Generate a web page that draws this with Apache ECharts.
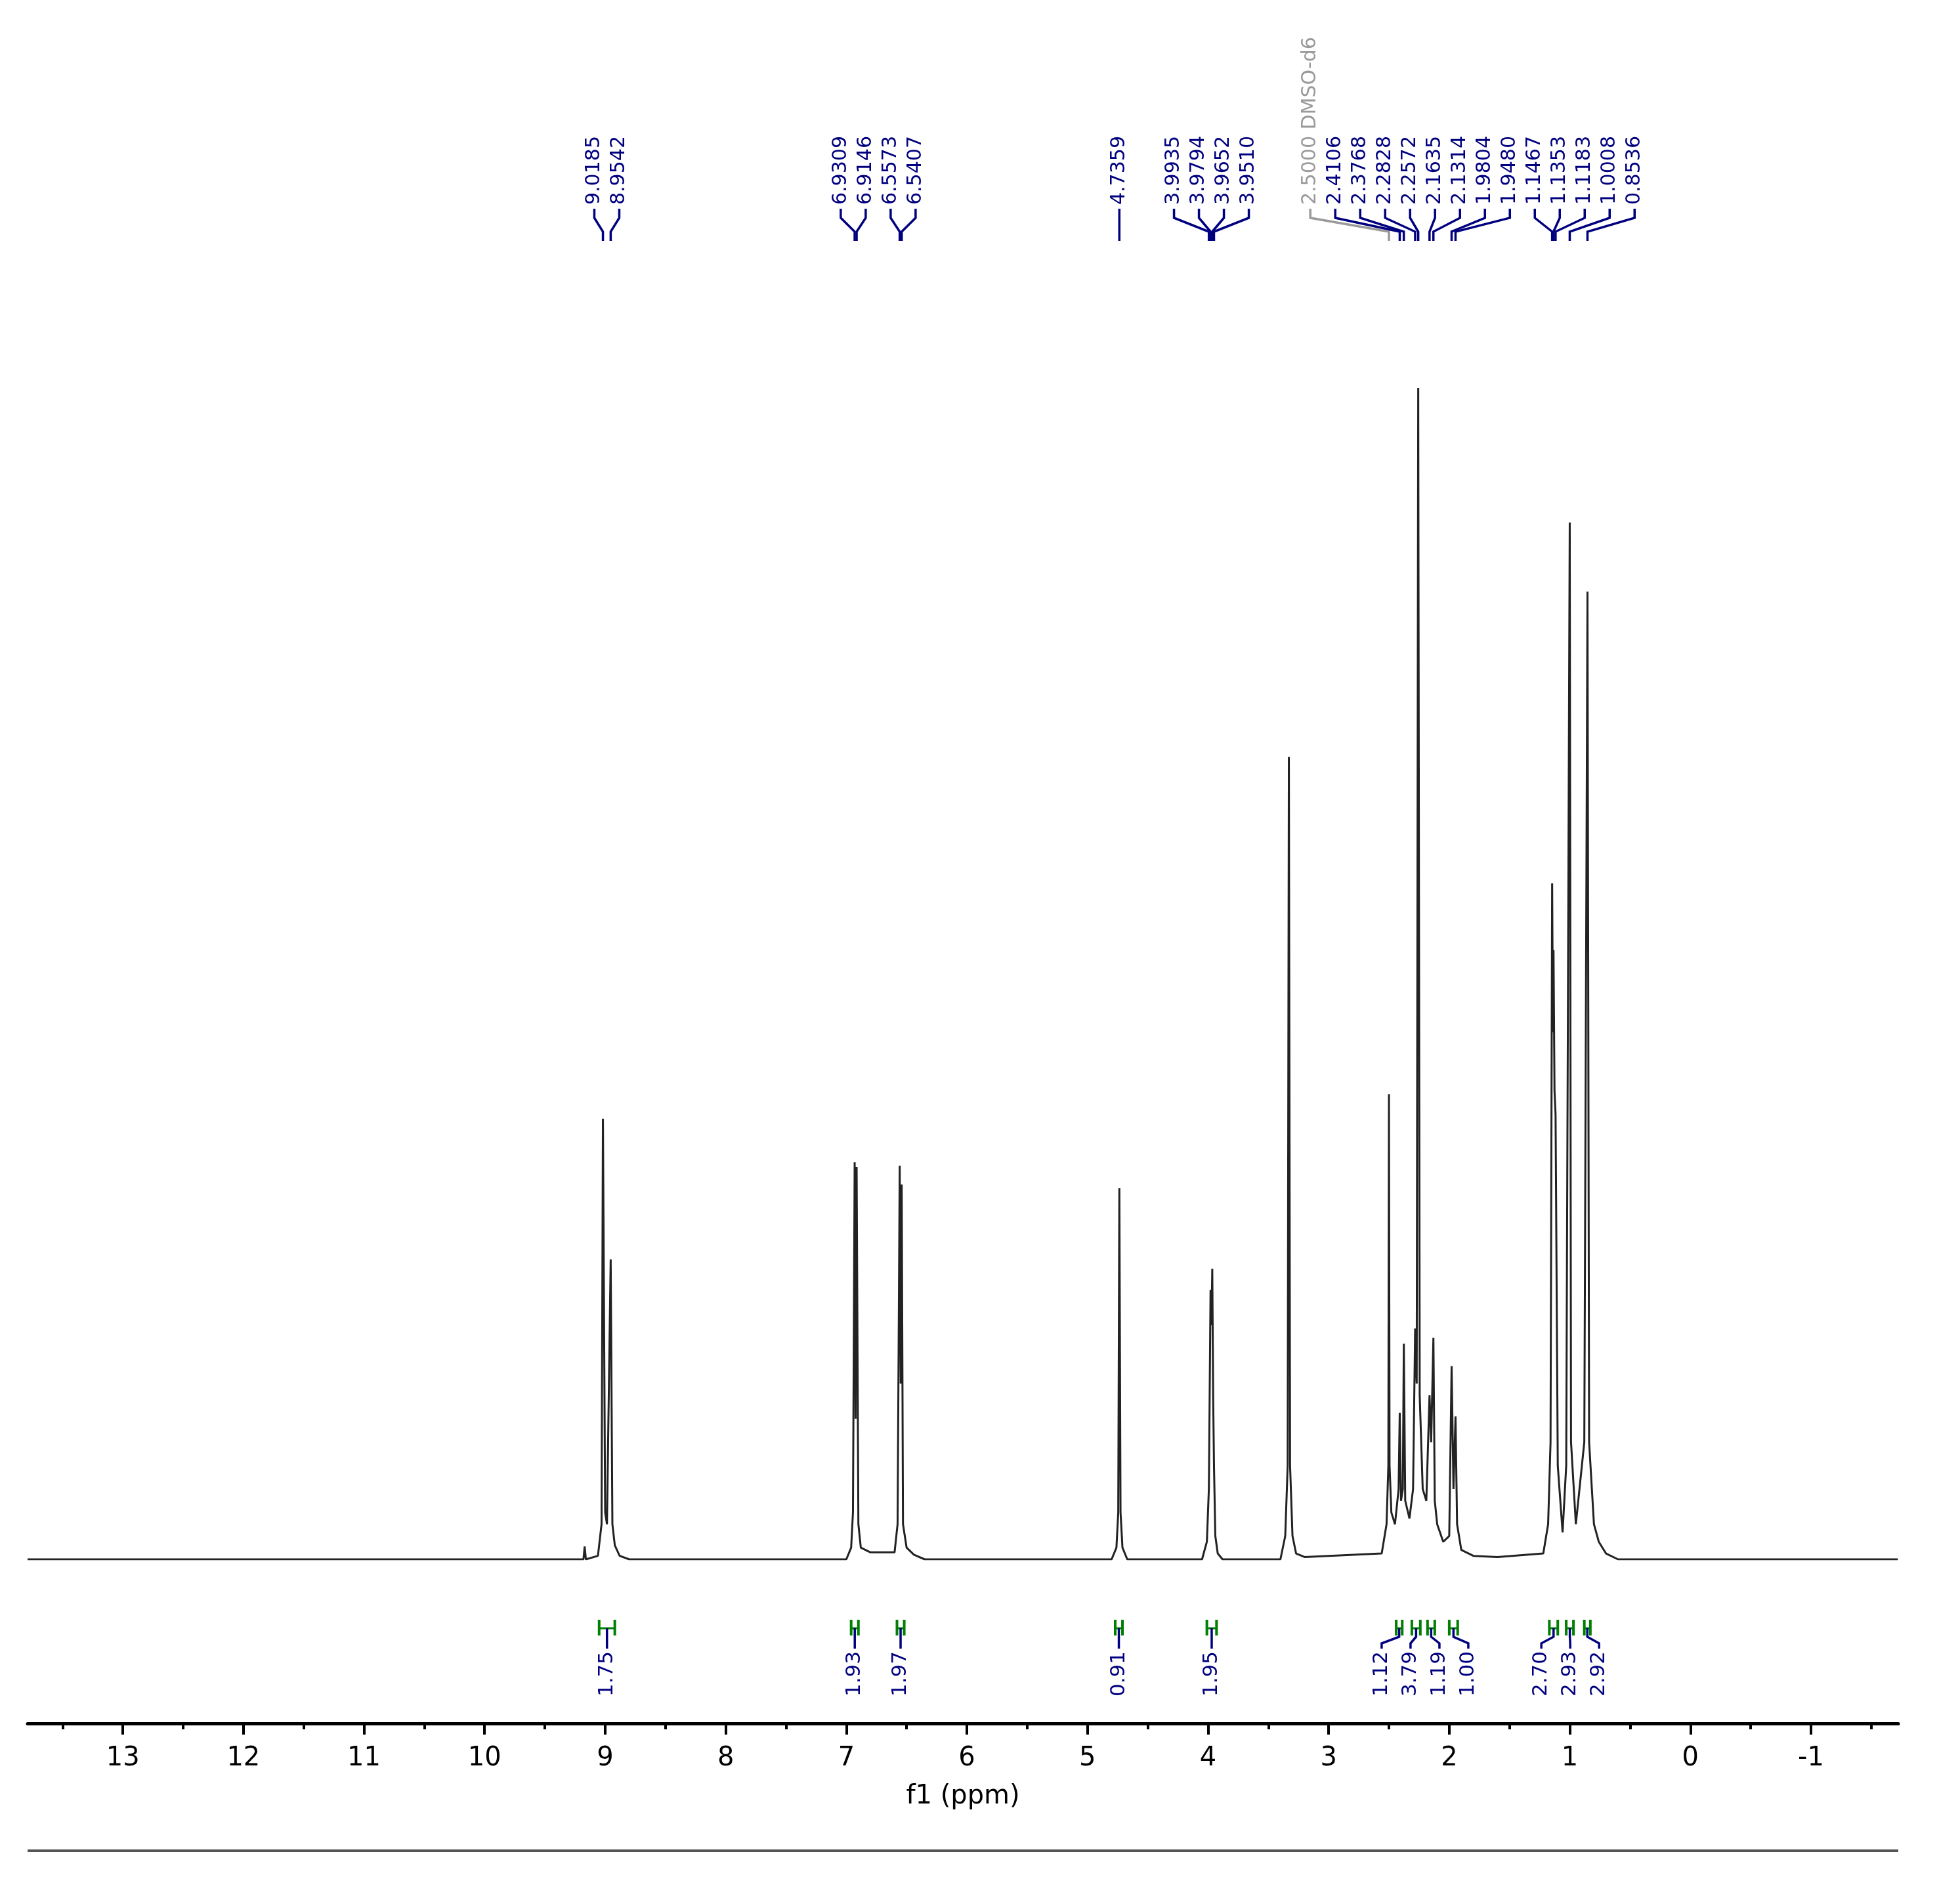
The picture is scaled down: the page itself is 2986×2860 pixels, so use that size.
<!DOCTYPE html>
<html><head><meta charset="utf-8">
<script src="https://cdn.jsdelivr.net/npm/echarts@6/dist/echarts.min.js"></script>
<style>html,body{margin:0;padding:0;background:#fff}#c{width:2986px;height:2860px}</style>
</head><body><div id="c"></div>
<script>
// spectrum trace: [ppm, relative intensity]
const spectrum = [
[13.79,0],[9.20,0],[9.18,0],[9.17,1.1],[9.16,0],[9.06,0.3],[9.03,3],[9.0185,37.6],[9.00,4],[8.985,3],[8.9542,25.6],[8.94,3],[8.92,1.2],[8.88,0.3],[8.80,0],
[7.00,0],[6.96,1],[6.945,4],[6.9309,33.9],[6.923,12],[6.9146,33.5],[6.90,3],[6.88,1],[6.80,0.6],[6.60,0.6],[6.575,3],[6.5573,33.6],[6.549,15],[6.5407,32],[6.53,3],[6.50,1],[6.44,0.4],[6.35,0],
[4.80,0],[4.76,1],[4.745,4],[4.7359,31.7],[4.726,4],[4.71,1],[4.67,0],
[4.05,0],[4.01,1.5],[3.9935,6],[3.9794,23],[3.972,20],[3.9652,24.8],[3.958,14],[3.951,8],[3.94,2],[3.92,0.5],[3.88,0],
[3.40,0],[3.36,2],[3.34,8],[3.33,68.5],[3.32,8],[3.30,2],[3.27,0.5],[3.20,0.2],
[2.56,0.5],[2.52,3],[2.505,8],[2.50,39.7],[2.495,8],[2.48,4],[2.45,3],[2.42,6],[2.4106,12.5],[2.40,5],[2.385,6],[2.3768,18.4],[2.365,5],[2.33,3.5],[2.30,6],[2.2828,19.7],[2.27,15],[2.2572,100],[2.245,14],[2.22,6],[2.19,5],[2.1635,14],[2.15,10],[2.1314,18.9],[2.12,5],[2.10,3],[2.05,1.5],[2.00,2],[1.9804,16.5],[1.965,6],[1.948,12.2],[1.935,3],[1.90,0.8],[1.80,0.3],[1.60,0.2],
[1.22,0.5],[1.18,3],[1.16,10],[1.1467,57.7],[1.140,45],[1.1353,52],[1.127,40],[1.1183,38],[1.10,8],[1.06,2.3],[1.03,8],[1.0008,88.5],[0.99,10],[0.95,3],[0.92,6],[0.88,10],[0.8536,82.6],[0.84,10],[0.80,3],[0.76,1.5],[0.70,0.5],[0.60,0],[-1.72,0]
];
const majorTicks = [13,12,11,10,9,8,7,6,5,4,3,2,1,0,-1];
const minorTicks = [13.5,12.5,11.5,10.5,9.5,8.5,7.5,6.5,5.5,4.5,3.5,2.5,1.5,0.5,-0.5,-1.5];
const peakLabels = [9.0185,8.9542,6.9309,6.9146,6.5573,6.5407,4.7359,3.9935,3.9794,3.9652,3.9510,2.5000,2.4106,2.3768,2.2828,2.2572,2.1635,2.1314,1.9804,1.9480,1.1467,1.1353,1.1183,1.0008,0.8536];
const solventLabel = {ppm:2.5000, text:'2.5000 DMSO-d6'};
const integralFrom = [9.05,6.96,6.58,4.77,4.01,2.44,2.31,2.18,2.00,1.17,1.03,0.88];
const integralTo   = [8.92,6.90,6.52,4.71,3.93,2.39,2.24,2.12,1.93,1.10,0.97,0.83];
const integralVals = ['1.75','1.93','1.97','0.91','1.95','1.12','3.79','1.19','1.00','2.70','2.93','2.92'];
const xMin=-1.724, xMax=13.79;

const chart = echarts.init(document.getElementById('c'));
chart.setOption({
  animation:false,
  grid:{left:42,right:94,top:591,bottom:484},
  xAxis:[{type:'value',min:xMin,max:xMax,inverse:true,offset:250,position:'bottom',
    axisLine:{onZero:false,lineStyle:{color:'#000',width:5}},
    axisTick:{customValues:majorTicks,length:17,lineStyle:{color:'#000',width:4}},
    axisLabel:{customValues:majorTicks,color:'#000',fontSize:40,fontFamily:'DejaVu Sans',margin:34},
    splitLine:{show:false},
    name:'f1 (ppm)',nameLocation:'middle',nameGap:92,nameTextStyle:{fontSize:40,fontFamily:'DejaVu Sans',color:'#000'}},
   {type:'value',min:xMin,max:xMax,inverse:true,offset:250,position:'bottom',
    axisLine:{show:false,onZero:false},
    axisTick:{customValues:minorTicks,length:9,lineStyle:{color:'#000',width:4}},
    axisLabel:{show:false},splitLine:{show:false}}],
  yAxis:{type:'value',min:0,max:100,show:false},
  series:[{type:'line',data:spectrum,showSymbol:false,lineStyle:{color:'#222',width:3},z:3}]
});

function px(v){return chart.convertToPixel({xAxisIndex:0},v);}
function spread(des,d){
  let cl=[];
  des.forEach((p,i)=>{
    cl.push({items:[i],sum:p});
    let merged=true;
    while(merged&&cl.length>1){
      merged=false;
      const a=cl[cl.length-2],b=cl[cl.length-1];
      const ca=a.sum/a.items.length, cb=b.sum/b.items.length;
      const endA=ca+(a.items.length-1)*d/2, startB=cb-(b.items.length-1)*d/2;
      if(startB-endA<d){a.items=a.items.concat(b.items);a.sum+=b.sum;cl.pop();merged=true;}
    }
  });
  const out=[];
  cl.forEach(c=>{const m=c.sum/c.items.length,n=c.items.length;c.items.forEach((i,k)=>out[i]=m+(k-(n-1)/2)*d);});
  return out;
}
const g=[];
const navy='#00007f';
const pk=peakLabels.map(px);
const lx=spread(pk,38);
peakLabels.forEach((v,i)=>{
  const solv=Math.abs(v-solventLabel.ppm)<1e-9;
  const col=solv?'#9a9a9a':navy;
  g.push({type:'text',x:lx[i],y:312,rotation:Math.PI/2,
    style:{text:solv?solventLabel.text:v.toFixed(4),fill:col,font:'30px "DejaVu Sans"',textAlign:'left',textVerticalAlign:'middle'}});
  g.push({type:'polyline',shape:{points:[[lx[i],318],[lx[i],332],[pk[i],353],[pk[i],367]]},style:{stroke:col,lineWidth:3.5,fill:null}});
});
const ic=integralFrom.map((f,i)=>(px(f)+px(integralTo[i]))/2);
const ix=spread(ic,44);
integralFrom.forEach((f,i)=>{
  const a=px(f),b=px(integralTo[i]);
  g.push({type:'polyline',shape:{points:[[a,2468],[a,2492]]},style:{stroke:'#007f00',lineWidth:4,fill:null}});
  g.push({type:'polyline',shape:{points:[[b,2468],[b,2492]]},style:{stroke:'#007f00',lineWidth:4,fill:null}});
  g.push({type:'line',shape:{x1:a,y1:2481,x2:b,y2:2481},style:{stroke:'#007f00',lineWidth:3}});
  g.push({type:'polyline',shape:{points:[[ic[i],2481],[ic[i],2494],[ix[i],2504],[ix[i],2512]]},style:{stroke:navy,lineWidth:3.5,fill:null}});
  g.push({type:'text',x:ix[i],y:2516,rotation:Math.PI/2,
    style:{text:integralVals[i],fill:navy,font:'31px "DejaVu Sans"',textAlign:'right',textVerticalAlign:'middle'}});
});
g.push({type:'line',shape:{x1:42,y1:2820,x2:2892,y2:2820},style:{stroke:'#555',lineWidth:4}});
chart.setOption({graphic:g});
</script></body></html>
